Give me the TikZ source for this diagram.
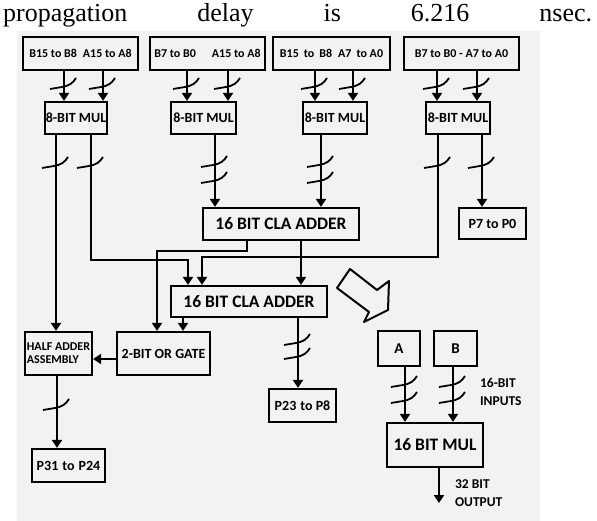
\documentclass[tikz,border=0pt]{standalone}
\usepackage{fontspec}
\setmainfont{Liberation Serif}
\newfontfamily\lbl{Carlito}
\usepackage{tikz}
\usetikzlibrary{arrows.meta}
\usepackage{xcolor}
\definecolor{bggray}{RGB}{242,242,242}

\tikzset{bus/.pic={\draw[line width=1.8pt] (-14,3) -- (-2,1) .. controls (5,0) and (9,-3) .. (12,-8);}}

\begin{document}
\begin{tikzpicture}[x=1pt, y=-1pt, line width=2.2pt, >={Triangle[width=10pt,length=8pt]},
  box/.style={draw, line width=2.3pt, inner sep=0pt, font=\lbl\bfseries\fontsize{14}{15}\selectfont},
  inbox/.style={box, minimum width=115pt, minimum height=33pt, font=\lbl\bfseries\fontsize{12}{13}\selectfont},
  mulbox/.style={box, minimum width=64pt, minimum height=32pt},
  bigbox/.style={box, font=\lbl\bfseries\fontsize{17.5}{19}\selectfont},
  note/.style={inner sep=0pt, align=left, font=\lbl\bfseries\fontsize{13.5}{17.5}\selectfont}]
\useasboundingbox (0,0) rectangle (597,521);
\fill[bggray] (17,31) rectangle (540,521);
\node[anchor=base west, inner sep=0pt, font=\fontsize{26}{30}\selectfont] (title) at (2,22)
  {\makebox[589pt][s]{propagation delay is 6.216 nsec.}};
% operand halves
\node[inbox] (t1) at (80.5,53.5) {B15 to B8\hspace{6pt}A15 to A8};
\node[inbox] (t2) at (207.5,53.5) {B7 to B0\hspace{16pt}A15 to A8};
\node[inbox, minimum width=117pt] (t3) at (331.5,53.5) {B15\hspace{5pt}to\hspace{5pt}B8\hspace{6pt}A7\hspace{5pt}to A0};
\node[inbox] (t4) at (461.5,53.5) {B7 to B0 - A7 to A0};
% 8 bit multipliers
\node[mulbox, minimum width=62pt] (m1) at (76,118) {8-BIT MUL};
\node[mulbox, minimum width=65pt] (m2) at (203.5,118) {8-BIT MUL};
\node[mulbox] (m3) at (335,118) {8-BIT MUL};
\node[mulbox] (m4) at (458,118) {8-BIT MUL};
% adders and outputs
\node[bigbox, minimum width=156pt, minimum height=32pt] (cla1) at (281,224) {16 BIT CLA ADDER};
\node[bigbox, minimum width=156pt, minimum height=31pt] (cla2) at (249,301.5) {16 BIT CLA ADDER};
\node[box, minimum width=67pt, minimum height=31pt] (p7) at (492.5,223.5) {P7 to P0};
\node[box, minimum width=93pt, minimum height=43pt] (orgate) at (163.5,353.5) {2-BIT OR GATE};
\node[box, minimum width=67pt, minimum height=43pt, align=left, font=\lbl\bfseries\fontsize{12}{13}\selectfont] (ha) at (58.5,353.5) {HALF ADDER\\ASSEMBLY};
\node[box, minimum width=67pt, minimum height=33pt] (p23) at (302.5,405.5) {P23\hspace{4pt}to P8};
\node[box, minimum width=73pt, minimum height=33pt] (p31) at (68.5,465.5) {P31\hspace{4pt}to\hspace{4pt}P24};
% summary block
\node[box, minimum width=42pt, minimum height=35pt, font=\lbl\bfseries\fontsize{15}{16}\selectfont] (a) at (399,348.5) {A};
\node[box, minimum width=43pt, minimum height=35pt, font=\lbl\bfseries\fontsize{15}{16}\selectfont] (b) at (455.5,348.5) {B};
\node[bigbox, minimum width=96pt, minimum height=44pt] (mul16) at (435,445) {16 BIT MUL};
\node[note, anchor=west] (inlbl) at (479,392) {16-BIT\\INPUTS};
\node[note, anchor=west] (outlbl) at (454,493) {32 BIT\\OUTPUT};
\coordinate (out) at (439,503);

% partial products in
\foreach \s/\d/\xa/\xb in {t1/m1/64/103, t2/m2/187/228, t3/m3/315/353, t4/m4/437/477} {
  \draw[->] (\s.south -| \xa,0) -- (\d.north -| \xa,0);
  \draw[->] (\s.south -| \xb,0) -- (\d.north -| \xb,0);
  \pic at (\xa,86) {bus};
  \pic at (\xb,86) {bus};
}
% multiplier outputs
\draw[->] (m1.south -| 56,0) -- (ha.north -| 56,0);
\draw[->] (m1.south -| 91,0) |- (188,260) -- (cla2.north -| 188,0);
\draw[->] (m2.south -| 215,0) -- (cla1.north -| 215,0);
\draw[->] (m3.south -| 321,0) -- (cla1.north -| 321,0);
\draw[->] (m4.south -| 438,0) |- (202,257) -- (cla2.north -| 202,0);
\draw[->] (m4.south -| 482,0) -- (p7.north -| 482,0);
\foreach \x in {56,91,438,482} \pic at (\x,165) {bus};
\foreach \x in {215,321} {\pic at (\x,164) {bus}; \pic at (\x,180) {bus};}
% adders
\draw[->] (cla1.south -| 247,0) |- (157,251) -- (orgate.north -| 157,0);
\draw[->] (cla1.south -| 301,0) -- (cla2.north -| 301,0);
\draw[->] (cla2.south -| 183,0) -- (orgate.north -| 183,0);
\draw[->] (cla2.south -| 298,0) -- (p23.north -| 298,0);
\pic at (298,342) {bus}; \pic at (298,356) {bus};
\draw[->] (orgate.west |- 0,359) -- (ha.east |- 0,359);
\draw[->] (ha.south -| 57,0) -- (p31.north -| 57,0);
\pic at (57,407) {bus};
% hollow arrow
\draw[line width=2pt, line join=round] (350,269) -- (377,290) -- (389,281) -- (388,310) -- (364,322) -- (369,312) -- (337,288) -- cycle;
% 16 bit multiplier
\draw[->] (a.south -| 405,0) -- (mul16.north -| 405,0);
\draw[->] (b.south -| 453,0) -- (mul16.north -| 453,0);
\foreach \x in {405,453} {\pic at (\x,384) {bus}; \pic at (\x,400) {bus};}
\draw[->] (mul16.south -| 439,0) -- (out);
\end{tikzpicture}
\end{document}
